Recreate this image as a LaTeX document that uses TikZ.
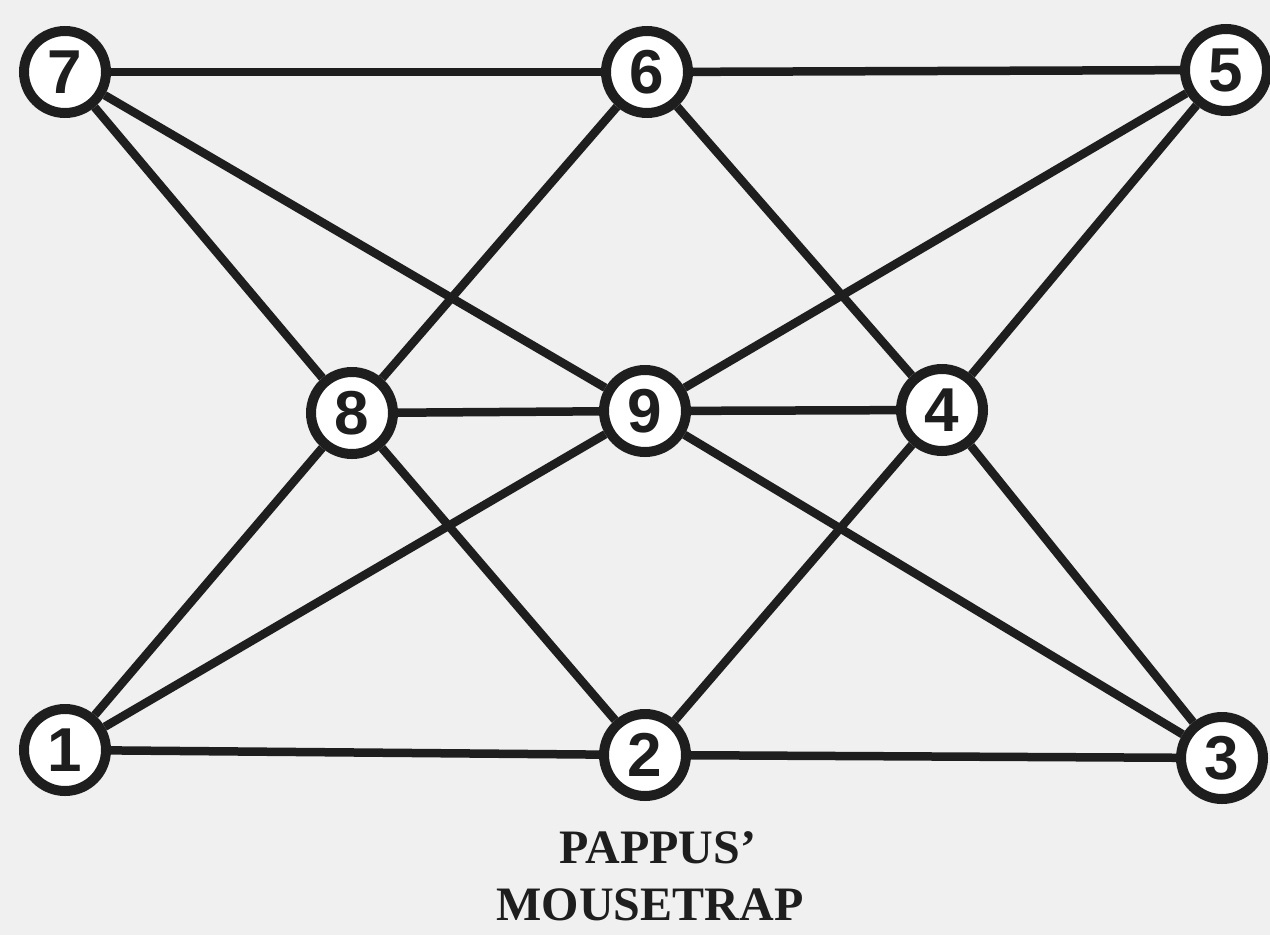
\documentclass[tikz,border=0pt]{standalone}
\usepackage{fontspec}
\setmainfont{Liberation Serif}
\newfontfamily\digitfont{Liberation Sans}
\definecolor{bgc}{HTML}{F0F0F0}
\definecolor{ink}{HTML}{1E1E1E}
\begin{document}
\begin{tikzpicture}[x=1pt,y=-1pt,
  vtx/.style={circle,draw=ink,fill=white,line width=10pt,minimum size=82pt,inner sep=0pt,
    font=\digitfont\bfseries\fontsize{62}{62}\selectfont,text=ink},
  edge/.style={draw=ink,line width=8.5pt},
  captext/.style={font=\bfseries\fontsize{48}{48}\selectfont,text=ink}]
\fill[bgc] (0,0) rectangle (1270,935);
\useasboundingbox (0,0) rectangle (1270,935);
\node[vtx] (n7) at (65,72) {7};
\node[vtx] (n6) at (647,72) {6};
\node[vtx] (n5) at (1226,70) {5};
\node[vtx] (n8) at (352,413) {8};
\node[vtx] (n9) at (645,411) {9};
\node[vtx] (n4) at (942,410) {4};
\node[vtx] (n1) at (65,750) {1};
\node[vtx] (n2) at (645,755) {2};
\node[vtx] (n3) at (1222,758) {3};
\foreach \a/\b in {n7/n6,n6/n5,n7/n8,n7/n9,n6/n8,n6/n4,n5/n9,n5/n4,n8/n9,n9/n4,n8/n1,n8/n2,n9/n1,n9/n3,n4/n2,n4/n3,n1/n2,n2/n3}
  \path[edge] (\a) -- (\b);
\node[captext] (t1) at (658,848) {PAPPUS'};
\node[captext] (t2) at (650,905) {MOUSETRAP};
\end{tikzpicture}
\end{document}
